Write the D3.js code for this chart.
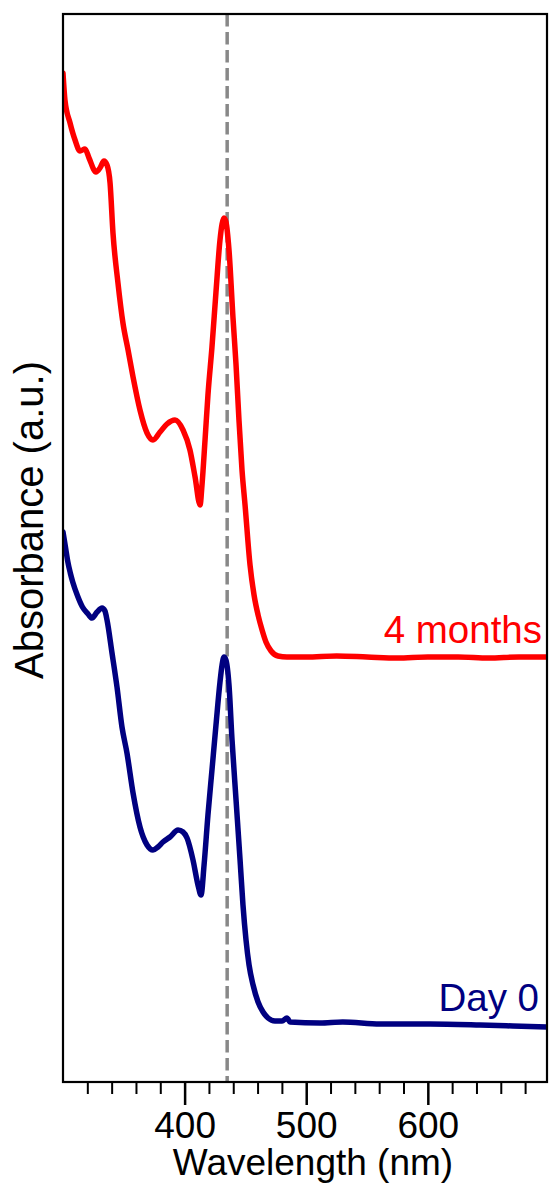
<!DOCTYPE html>
<html>
<head>
<meta charset="utf-8">
<script src="https://cdn.jsdelivr.net/npm/d3@7"></script>
<style>
  html, body { margin: 0; padding: 0; background: #fff; }
  svg { display: block; }
  text { font-family: "Liberation Sans", Arial, sans-serif; }
</style>
</head>
<body>
<svg id="chart" width="549" height="1185"></svg>
<script>
// ---- data ----
const wavelengthDomain = [300, 698];
const majorTicks = [400, 500, 600];
const minorTicks = [320, 340, 360, 380, 420, 440, 460, 480, 520, 540, 560, 580, 620, 640, 660, 680];
const markerWavelength = 435;

const months4Wavelength = [300.0, 301.6, 305.8, 309.9, 314.0, 318.1, 321.4, 327.1, 330.4, 333.7, 336.2, 338.7, 341.1, 345.2, 349.3, 353.5, 357.6, 363.3, 369.1, 374.0, 379.8, 385.5, 392.1, 398.7, 404.4, 408.6, 412.7, 414.3, 416.8, 419.2, 422.5, 425.8, 429.1, 430.8, 432.4, 434.0, 436.5, 439.8, 442.3, 444.7, 447.2, 449.7, 453.8, 457.1, 460.4, 463.7, 466.9, 471.1, 476.8, 484.2, 500, 525, 550, 575, 600, 625, 650, 675, 698];
const months4Absorbance = [100.9, 98.2, 95.9, 94.2, 93.1, 93.3, 92.4, 91.0, 91.4, 92.1, 91.7, 89.9, 84.9, 79.9, 75.9, 73.2, 70.5, 67.2, 64.9, 64.2, 65.0, 65.8, 66.2, 65.2, 63.2, 60.5, 57.7, 59.7, 64.2, 68.7, 73.5, 79.0, 84.2, 85.8, 86.4, 86.0, 83.2, 76.4, 71.7, 66.2, 61.2, 57.7, 51.7, 48.7, 46.7, 45.2, 44.0, 43.1, 42.6, 42.5, 42.5, 42.6, 42.5, 42.4, 42.5, 42.5, 42.4, 42.5, 42.5];

const day0Wavelength = [300.0, 302.0, 304.0, 306.0, 308.0, 312.0, 316.0, 320.6, 323.8, 328.0, 332.1, 334.5, 336.2, 340.3, 344.4, 348.5, 352.6, 357.6, 363.3, 369.1, 374.0, 378.1, 382.2, 388.0, 394.6, 398.7, 402.0, 406.9, 411.0, 413.5, 416.0, 419.2, 422.5, 425.8, 429.1, 430.8, 432.4, 434.0, 436.5, 439.0, 442.3, 445.6, 448.0, 450.5, 453.0, 456.3, 460.4, 464.5, 468.6, 474.3, 480.1, 484.2, 486.7, 511.3, 530, 560.7, 601.8, 642.9, 670, 698];
const day0Absorbance = [55.0, 53.5, 52.0, 50.9, 50.0, 48.6, 47.5, 46.8, 46.4, 47.0, 47.4, 47.1, 46.2, 42.9, 39.5, 35.5, 32.9, 28.9, 25.5, 23.7, 23.2, 23.5, 24.0, 24.5, 25.2, 25.0, 24.4, 22.2, 19.7, 18.7, 21.7, 26.7, 31.2, 35.7, 40.0, 41.7, 42.5, 42.2, 39.7, 34.2, 28.2, 22.2, 17.7, 14.2, 11.7, 9.7, 8.0, 7.0, 6.4, 6.1, 6.1, 6.4, 6.0, 5.9, 6.0, 5.8, 5.8, 5.7, 5.6, 5.5];

const seriesNames = ["4 months", "Day 0"];
const seriesColors = ["#ff0000", "#000080"];

// ---- layout ----
const plotLeft = 63, plotRight = 547, plotTop = 14, plotBottom = 1082;
const svg = d3.select("#chart");

const x = d3.scaleLinear().domain(wavelengthDomain).range([plotLeft, plotRight]);
const y = d3.scaleLinear().domain([0, 106.8]).range([plotBottom, plotTop]);

// dashed marker
svg.append("line")
  .attr("x1", x(markerWavelength)).attr("x2", x(markerWavelength))
  .attr("y1", plotTop).attr("y2", plotBottom)
  .attr("stroke", "#888888").attr("stroke-width", 3.5)
  .attr("stroke-dasharray", "12.5,5.5");

const line = d3.line()
  .x(d => x(d[0])).y(d => y(d[1]))
  .curve(d3.curveMonotoneX);

const series = [
  d3.zip(months4Wavelength, months4Absorbance),
  d3.zip(day0Wavelength, day0Absorbance)
];

svg.append("defs").append("clipPath").attr("id", "clip")
  .append("rect").attr("x", plotLeft).attr("y", plotTop)
  .attr("width", plotRight - plotLeft).attr("height", plotBottom - plotTop);

series.forEach((s, i) => {
  svg.append("path")
    .datum(s)
    .attr("clip-path", "url(#clip)")
    .attr("fill", "none")
    .attr("stroke", seriesColors[i])
    .attr("stroke-width", 5.5)
    .attr("stroke-linejoin", "round")
    .attr("stroke-linecap", "round")
    .attr("d", line);
});

// frame
svg.append("rect")
  .attr("x", plotLeft).attr("y", plotTop)
  .attr("width", plotRight - plotLeft).attr("height", plotBottom - plotTop)
  .attr("fill", "none").attr("stroke", "#000").attr("stroke-width", 2.2);

// x axis: minor ticks
const minorAxis = d3.axisBottom(x).tickValues(minorTicks).tickSize(12).tickFormat("");
const gMinor = svg.append("g").attr("transform", `translate(0,${plotBottom})`).call(minorAxis);
gMinor.select(".domain").remove();
gMinor.selectAll(".tick line").attr("stroke", "#000").attr("stroke-width", 2);

const majorAxis = d3.axisBottom(x).tickValues(majorTicks).tickSize(23).tickFormat(d3.format("d"));
const gMajor = svg.append("g").attr("transform", `translate(0,${plotBottom})`).call(majorAxis);
gMajor.select(".domain").remove();
gMajor.selectAll(".tick line").attr("stroke", "#000").attr("stroke-width", 2.5);
gMajor.selectAll(".tick text")
  .attr("font-family", "'Liberation Sans', Arial, sans-serif")
  .attr("font-size", 37).attr("fill", "#000")
  .attr("dy", null)
  .attr("y", 1138 - plotBottom);

// axis titles
svg.append("text")
  .attr("x", 313).attr("y", 1175)
  .attr("text-anchor", "middle")
  .attr("font-size", 37).attr("fill", "#000")
  .text("Wavelength (nm)");

svg.append("text")
  .attr("transform", `translate(43,520) rotate(-90)`)
  .attr("text-anchor", "middle")
  .attr("font-size", 40).attr("fill", "#000")
  .text("Absorbance (a.u.)");

// series labels
svg.append("text")
  .attr("x", 542).attr("y", 643)
  .attr("text-anchor", "end")
  .attr("font-size", 38.5).attr("fill", seriesColors[0])
  .text(seriesNames[0]);

svg.append("text")
  .attr("x", 539).attr("y", 1011)
  .attr("text-anchor", "end")
  .attr("font-size", 38.5).attr("fill", seriesColors[1])
  .text(seriesNames[1]);
</script>
</body>
</html>
